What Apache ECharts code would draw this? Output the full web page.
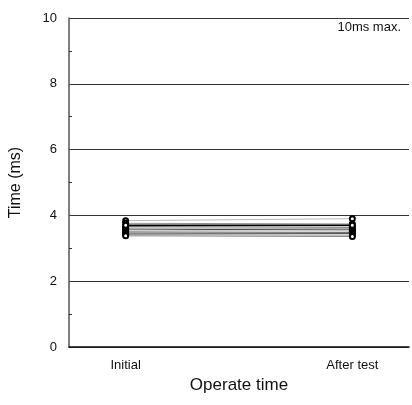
<!DOCTYPE html>
<html>
<head>
<meta charset="utf-8">
<script src="https://cdn.jsdelivr.net/npm/echarts@6/dist/echarts.min.js"></script>
<style>html,body{margin:0;padding:0;background:#fff}#c{width:412px;height:405px}</style>
</head>
<body>
<div id="c"></div>
<script>
const categories = ['Initial', 'After test'];
const initialValues = [3.84, 3.76, 3.70, 3.66, 3.62, 3.58, 3.55, 3.50, 3.46, 3.42, 3.38];
const afterValues   = [3.90, 3.74, 3.70, 3.64, 3.60, 3.56, 3.52, 3.48, 3.45, 3.40, 3.36];
const lineColors = ['#b8b8b8', '#909090', '#000000', '#606060', '#a8a8a8', '#404040', '#c8c8c8', '#707070', '#505050', '#999999', '#808080'];
const lineWidths = [1, 1, 1.5, 1, 1, 1, 1, 1, 1, 1, 1];
const yTicks = [0, 2, 4, 6, 8, 10];
const note = '10ms max.';

const series = initialValues.map((v, i) => ({
  type: 'line',
  data: [[0, v], [1, afterValues[i]]],
  symbol: 'emptyCircle',
  symbolSize: 5,
  showSymbol: true,
  itemStyle: { color: '#000', borderWidth: 1 },
  lineStyle: { color: lineColors[i], width: lineWidths[i] },
  z: 3 + (lineColors[i] === '#000000' ? 1 : 0),
  silent: true,
  animation: false
}));

const font = 'Liberation Sans, Arial, sans-serif';
const chart = echarts.init(document.getElementById('c'));
chart.setOption({
  animation: false,
  grid: { left: 68, right: 0, top: 18, bottom: 58, containLabel: false },
  xAxis: {
    type: 'value', min: -0.25, max: 1.25, interval: 0.25,
    axisLine: { show: true, lineStyle: { color: '#111', width: 1.5 } },
    axisTick: { show: false },
    splitLine: { show: false },
    axisLabel: {
      margin: 12, fontSize: 13, color: '#111', fontFamily: font,
      formatter: v => (Math.abs(v) < 1e-9 ? categories[0] : (Math.abs(v - 1) < 1e-9 ? categories[1] : ''))
    },
    name: 'Operate time', nameLocation: 'middle', nameGap: 26,
    nameTextStyle: { fontSize: 17, color: '#111', fontFamily: font }
  },
  yAxis: {
    type: 'value', min: 0, max: 10, interval: 2,
    axisLine: { show: true, onZero: false, lineStyle: { color: '#555', width: 1.5 } },
    axisTick: { show: false, inside: true },
    minorTick: { show: true, splitNumber: 2, length: 3, lineStyle: { color: '#333', width: 1 } },
    splitLine: { show: true, lineStyle: { color: '#333', width: 1.2 } },
    axisLabel: {
      margin: 12, fontSize: 13, color: '#111', fontFamily: font,
      formatter: v => (yTicks.indexOf(v) >= 0 ? String(v) : '')
    },
    name: 'Time (ms)', nameLocation: 'middle', nameGap: 45,
    nameTextStyle: { fontSize: 16, color: '#111', fontFamily: font }
  },
  graphic: [{
    type: 'text', right: 11, top: 21,
    style: { text: note, fontSize: 13, fill: '#111', fontFamily: font }
  }],
  series: series
});
</script>
</body>
</html>
